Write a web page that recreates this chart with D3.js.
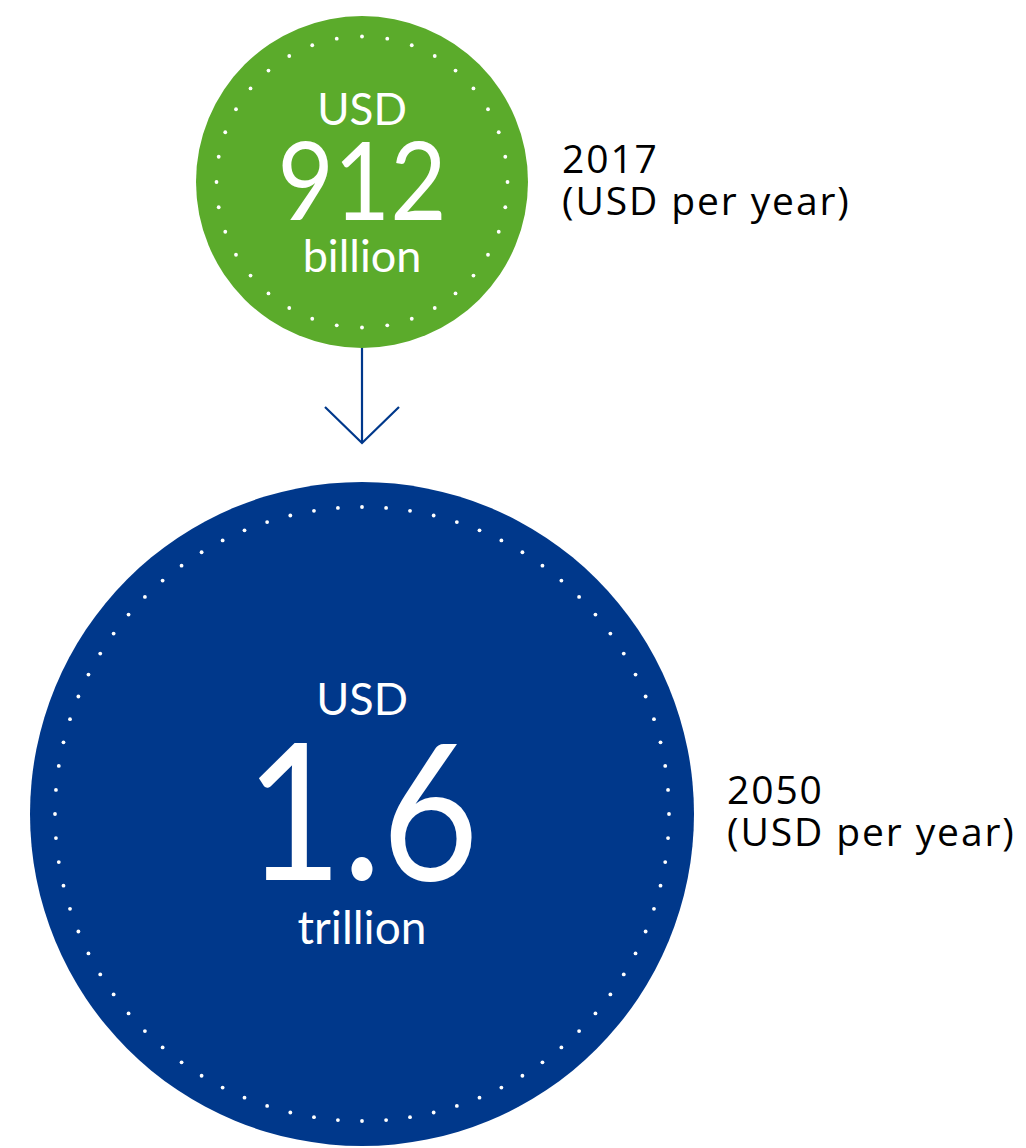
<!DOCTYPE html>
<html>
<head>
<meta charset="utf-8">
<script src="https://cdn.jsdelivr.net/npm/d3@7"></script>
<style>
  body { margin: 0; background: #fff; }
</style>
</head>
<body>
<svg id="chart" width="1026" height="1148"></svg>
<script>
// values (USD per year, in billions)
var years = ["2017", "2050"];
var values = [912, 1600];
var amountLabels = ["912", "1.6"];
var unitLabels = ["billion", "trillion"];
var dotCounts = [36, 80];

var svg = d3.select("svg#chart"),
  cx = 362;

// radius scale: the two bubbles
var r = d3.scaleLinear().domain([912, 1600]).range([166, 332]);

// colours
var fill = d3.scaleOrdinal().domain(years).range(["#5bab2b", "#00388b"]);

var cys = [16 + r(values[0]), 482 + r(values[1])];

// arrow between the circles
var arrow = svg.append("g")
  .attr("stroke", "#00388b")
  .attr("stroke-width", 2.2)
  .attr("fill", "none");
arrow.append("line")
  .attr("x1", cx).attr("x2", cx)
  .attr("y1", cys[0] + r(values[0]) - 2)
  .attr("y2", 443);
arrow.append("path")
  .attr("d", "M" + (cx - 37) + ",407L" + cx + ",443L" + (cx + 37) + ",407");

var bubble = svg.selectAll("g.bubble")
  .data(values)
  .enter()
  .append("g")
  .attr("class", "bubble")
  .attr("transform", function (d, i) {
    return "translate(" + cx + "," + cys[i] + ")";
  });

bubble.append("circle")
  .attr("r", function (d) { return r(d); })
  .attr("fill", function (d, i) { return fill(years[i]); });

// dotted inner ring
bubble.each(function (d, i) {
  var ringR = r(d) - (i === 0 ? 20.5 : 25);
  var n = dotCounts[i];
  d3.select(this).append("g")
    .selectAll("circle")
    .data(d3.range(n))
    .enter()
    .append("circle")
    .attr("cx", function (k) { return ringR * Math.sin(2 * Math.PI * k / n); })
    .attr("cy", function (k) { return -ringR * Math.cos(2 * Math.PI * k / n); })
    .attr("r", 1.9)
    .attr("fill", "#fff");
});

var big = [
  { usd: 44, usdY: -57, amt: 108, amtY: 38, sx: 0.9, unit: 45, unitY: 90 },
  { usd: 45, usdY: -99, amt: 190, amtY: 66, sx: 0.88, unit: 46, unitY: 130 }
];

bubble.append("text")
  .attr("text-anchor", "middle")
  .attr("fill", "#fff")
  .attr("font-family", "Lato")
  .attr("font-size", function (d, i) { return big[i].usd; })
  .attr("y", function (d, i) { return big[i].usdY; })
  .text("USD");

bubble.append("text")
  .attr("text-anchor", "middle")
  .attr("fill", "#fff")
  .attr("font-family", "Lato")
  .attr("font-size", function (d, i) { return big[i].amt; })
  .attr("transform", function (d, i) {
    return "translate(0," + big[i].amtY + ") scale(" + big[i].sx + ",1)";
  })
  .text(function (d, i) { return amountLabels[i]; });

bubble.append("text")
  .attr("text-anchor", "middle")
  .attr("fill", "#fff")
  .attr("font-family", "Lato")
  .attr("font-size", function (d, i) { return big[i].unit; })
  .attr("y", function (d, i) { return big[i].unitY; })
  .text(function (d, i) { return unitLabels[i]; });

// year labels to the right
var labelPos = [[562, 173], [727, 804]];
var lab = svg.selectAll("text.year")
  .data(years)
  .enter()
  .append("text")
  .attr("class", "year")
  .attr("font-family", "Open Sans")
  .attr("font-size", 39)
  .attr("letter-spacing", 1.9)
  .attr("fill", "#000")
  .attr("transform", function (d, i) {
    return "translate(" + labelPos[i][0] + "," + labelPos[i][1] + ")";
  });
lab.append("tspan").attr("x", 0).text(function (d) { return d; });
lab.append("tspan").attr("x", 0).attr("dy", 42).text("(USD per year)");
</script>
</body>
</html>
